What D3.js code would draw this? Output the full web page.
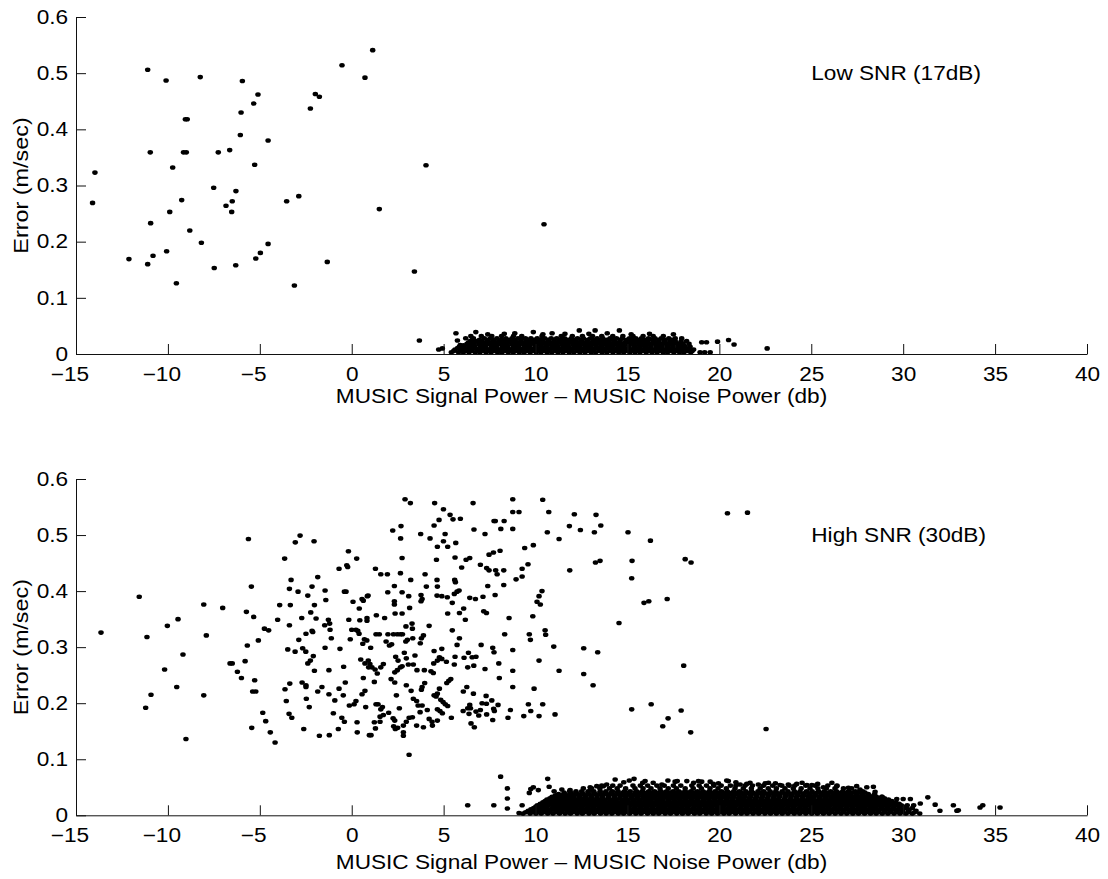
<!DOCTYPE html>
<html><head><meta charset="utf-8">
<script src="https://cdn.jsdelivr.net/npm/d3@7"></script>
<style>body{margin:0;background:#fff}text{font-family:"Liberation Sans",Arial,Helvetica,sans-serif;fill:#000}</style>
</head><body><svg id="c" width="1108" height="879"></svg>
<script>
const xTicks=[-15,-10,-5,0,5,10,15,20,25,30,35,40];
const yTicks=[0,0.1,0.2,0.3,0.4,0.5,0.6];
const yTickLabels=["0","0.1","0.2","0.3","0.4","0.5","0.6"];
const xLabel="MUSIC Signal Power \u2013 MUSIC Noise Power (db)";
const yLabel="Error (m/sec)";
const panelTitles=["Low SNR (17dB)","High SNR (30dB)"];

// Low SNR panel: individually read points [x, error]
const lowPts=[[-13.97,0.323],[-14.1,0.269],[-11.1,0.506],[-10.1,0.487],[-8.24,0.493],[-5.95,0.486],[-5.1,0.462],[-5.33,0.446],[-6.02,0.430],[-9.05,0.418],[-8.95,0.418],[-6.06,0.390],[-4.55,0.380],[-10.96,0.359],[-9.15,0.359],[-9.0,0.359],[-7.26,0.359],[-6.64,0.363],[-9.74,0.332],[-5.28,0.337],[-7.51,0.296],[-6.3,0.290],[-9.25,0.274],[-6.5,0.272],[-6.84,0.264],[-6.53,0.253],[-9.9,0.253],[-3.54,0.272],[-2.88,0.281],[1.5,0.258],[-10.94,0.233],[-8.81,0.220],[-8.18,0.198],[-4.55,0.196],[-10.07,0.183],[-4.97,0.180],[-5.22,0.170],[-10.81,0.175],[-12.12,0.169],[-11.1,0.160],[-7.48,0.153],[-6.31,0.158],[-1.33,0.164],[-9.54,0.126],[-3.12,0.122],[-2.25,0.437],[-1.98,0.463],[-1.76,0.458],[-0.53,0.514],[0.72,0.492],[1.14,0.541],[4.04,0.336],[10.46,0.231],[3.41,0.147],[3.68,0.024],[4.73,0.008],[4.93,0.010],[22.6,0.010],[20.5,0.025],[20.8,0.017],[19.9,0.022],[19.04,0.021],[19.3,0.021],[5.67,0.037],[6.75,0.039],[8.87,0.037],[9.88,0.039],[10.9,0.037],[11.6,0.036],[13.9,0.037],[16.2,0.036],[17.5,0.035],[12.38,0.042],[13.24,0.042],[14.56,0.042],[18.95,0.003],[19.2,0.003],[19.5,0.003],[7.4,0.035],[8.3,0.036],[10.4,0.035],[12.9,0.036],[15.2,0.035],[5.75,0.024],[5.9,0.016]];
// Low SNR dense cluster, read row by row
const lowCoreY=[0.003,0.008,0.013,0.018,0.023,0.028,0.032,0.0055,0.0105,0.0155,0.0205,0.0255];
const lowCoreX=[
[5.42,5.81,6.07,6.38,6.72,6.97,7.31,7.58,7.93,8.17,8.52,8.79,9.12,9.38,9.71,10.04,10.29,10.63,10.88,11.22,11.49,11.83,12.08,12.41,12.69,13.03,13.27,13.62,13.88,14.21,14.52,14.79,15.13,15.41,15.68,16.02,16.33,16.61,16.94,17.18,17.52,17.83,18.07,18.44],
[5.62,5.95,6.24,6.55,6.83,7.16,7.44,7.77,8.05,8.36,8.66,8.95,9.27,9.55,9.86,10.17,10.46,10.78,11.05,11.36,11.66,11.97,12.25,12.56,12.86,13.15,13.47,13.75,14.05,14.37,14.66,14.95,15.27,15.55,15.86,16.16,16.47,16.77,17.05,17.36,17.66,17.97,18.28,18.6],
[5.85,6.12,6.41,6.69,7.02,7.29,7.62,7.89,8.21,8.49,8.81,9.08,9.41,9.69,10.01,10.32,10.61,10.93,11.19,11.52,11.79,12.13,12.39,12.72,13.0,13.31,13.59,13.92,14.18,14.51,14.81,15.09,15.42,15.7,16.01,16.29,16.62,16.89,17.21,17.49,17.82,18.12,18.41],
[6.27,6.58,6.91,7.19,7.5,7.81,8.1,8.42,8.71,9.02,9.31,9.6,9.93,10.22,10.53,10.82,11.12,11.43,11.71,12.03,12.31,12.62,12.92,13.21,13.53,13.81,14.12,14.41,14.7,15.02,15.31,15.62,15.9,16.21,16.52,16.8,17.12,17.4,17.73,18.02,18.35],
[6.44,6.75,7.08,7.37,7.68,8.0,8.28,8.61,8.9,9.2,9.51,9.8,10.12,10.4,10.71,11.01,11.3,11.62,11.9,12.21,12.52,12.8,13.12,13.4,13.7,14.01,14.3,14.6,14.92,15.2,15.5,15.81,16.1,16.42,16.7,17.0,17.31,17.6,17.92,18.22],
[6.2,6.62,7.21,7.55,7.9,8.38,8.72,9.05,9.45,9.75,10.09,10.5,10.85,11.15,11.58,11.95,12.28,12.6,12.98,13.35,13.66,14.05,14.4,14.72,15.11,15.45,15.76,16.15,16.5,16.84,17.25,17.6,17.95],
[6.48,7.05,7.62,8.15,8.8,9.25,10.35,11.4,12.0,12.55,13.1,13.6,14.2,14.75,15.3,15.85,16.4,16.95],
[5.55,5.9,6.22,6.51,6.86,7.12,7.46,7.73,8.07,8.34,8.68,8.93,9.24,9.53,9.84,10.12,10.45,10.74,11.07,11.33,11.64,11.94,12.27,12.53,12.85,13.12,13.45,13.72,14.06,14.33,14.65,14.92,15.24,15.53,15.83,16.12,16.44,16.73,17.03,17.32,17.63,17.92,18.24,18.52],
[5.76,6.05,6.37,6.64,6.96,7.25,7.57,7.84,8.17,8.45,8.76,9.06,9.35,9.66,9.95,10.26,10.56,10.87,11.14,11.47,11.75,12.07,12.35,12.66,12.95,13.27,13.55,13.86,14.15,14.46,14.75,15.06,15.35,15.66,15.96,16.25,16.56,16.85,17.16,17.45,17.76,18.05,18.36],
[6.08,6.39,6.66,6.98,7.28,7.6,7.87,8.19,8.47,8.79,9.07,9.38,9.67,9.98,10.27,10.58,10.87,11.18,11.47,11.77,12.06,12.38,12.67,12.97,13.27,13.57,13.86,14.17,14.46,14.77,15.07,15.37,15.66,15.97,16.26,16.57,16.86,17.17,17.46,17.77,18.08],
[6.35,6.66,6.97,7.27,7.58,7.88,8.18,8.49,8.79,9.1,9.4,9.7,10.01,10.31,10.62,10.92,11.22,11.53,11.83,12.13,12.44,12.74,13.05,13.35,13.65,13.96,14.26,14.56,14.87,15.17,15.47,15.78,16.08,16.39,16.69,16.99,17.3,17.6,17.9],
[6.56,6.95,7.4,7.72,8.14,8.5,8.86,9.22,9.6,9.96,10.3,10.68,11.02,11.4,11.76,12.12,12.46,12.84,13.2,13.55,13.88,14.25,14.6,14.95,15.32,15.66,16.0,16.35,16.72,17.05,17.42]];

// High SNR panel: individually read points [x, error]
const highPts=[[-13.64,0.326],[-11.56,0.390],[-11.14,0.318],[-10.03,0.338],[-9.45,0.350],[-10.18,0.260],[-9.18,0.287],[-10.92,0.215],[-11.21,0.192],[-9.52,0.229],[-9.02,0.136],[-8.05,0.376],[-7.91,0.321],[-8.05,0.214],[-7.02,0.370],[-6.62,0.271],[-6.5,0.271],[-6.22,0.256],[-6.0,0.245],[-5.8,0.275],[-5.73,0.363],[-5.68,0.303],[-5.62,0.493],[-5.46,0.408],[-5.33,0.354],[-5.28,0.241],[-5.39,0.221],[-5.22,0.221],[-5.44,0.156],[-5.08,0.312],[-4.84,0.183],[-4.75,0.333],[-4.52,0.330],[-4.68,0.168],[-4.43,0.148],[-4.17,0.130],
[-3.65,0.458],[-3.07,0.487],[-2.81,0.499],[-2.05,0.489],[-0.18,0.471],[0.27,0.458],[-0.69,0.440],[-0.27,0.446],[-0.22,0.443],[-3.3,0.420],[-1.85,0.425],[-3.39,0.404],[-2.92,0.399],[-2.39,0.392],[-2.16,0.408],[-1.45,0.401],[-1.41,0.384],[-0.4,0.399],[-0.31,0.399],[0.07,0.381],[0.56,0.386],[0.63,0.383],[0.85,0.391],[0.41,0.369],[-3.92,0.375],[-3.34,0.375],[-2.03,0.375],[-2.23,0.362],[-4.03,0.349],[-3.39,0.339],[-2.72,0.352],[-1.94,0.351],[-1.27,0.349],[-1.2,0.342],[-1.47,0.339],[-1.18,0.331],[-0.16,0.349],[0.44,0.348],[0.83,0.352],[0.83,0.347],[-2.49,0.324],[-2.16,0.329],[-2.12,0.327],[-1.11,0.316],[0.0,0.331],[0.23,0.331],[0.33,0.329],[0.4,0.324],[-0.08,0.314],[0.6,0.306],[0.69,0.314],[0.82,0.312],[-2.88,0.313],[-3.48,0.296],[-3.08,0.292],[-2.67,0.298],[-2.5,0.292],[-1.45,0.299],[-0.64,0.297],[-2.09,0.284],[-2.25,0.276],[-2.39,0.271],[-2.03,0.258],[-1.24,0.259],[-0.44,0.265],[0.49,0.278],[0.72,0.271],[0.9,0.276],[0.92,0.264],[0.63,0.245],[-3.37,0.235],[-3.63,0.225],[-2.7,0.237],[-2.49,0.232],[-2.49,0.229],[-1.85,0.221],[-1.62,0.229],[-1.24,0.216],[-0.69,0.226],[-0.46,0.214],[-0.35,0.237],[-3.56,0.204],[-2.47,0.208],[-2.31,0.193],[-0.92,0.205],[-0.13,0.196],[0.13,0.198],[0.23,0.204],[0.76,0.193],[0.56,0.216],[0.72,0.222],[-3.41,0.181],[-3.26,0.174],[-2.61,0.154],[-1.0,0.182],[-0.54,0.174],[-0.4,0.167],[-0.73,0.154],[0.29,0.166],[-1.76,0.142],[-1.22,0.143],[0.3,0.148],[0.96,0.143],
[2.90,0.564],[3.19,0.557],[4.51,0.557],[4.99,0.546],[5.35,0.536],[5.51,0.528],[5.91,0.529],[4.75,0.527],[4.48,0.517],[6.6,0.557],[8.76,0.564],[8.76,0.541],[9.10,0.541],[10.39,0.563],[10.72,0.541],[7.74,0.525],[7.81,0.525],[8.29,0.525],[6.65,0.510],[7.25,0.502],[8.11,0.511],[8.76,0.511],[10.64,0.505],[11.28,0.493],[2.23,0.508],[2.68,0.516],[2.66,0.494],[3.75,0.502],[4.26,0.494],[5.08,0.502],[4.66,0.479],[4.99,0.489],[5.22,0.479],[5.66,0.486],[2.74,0.459],[4.61,0.456],[5.62,0.460],[6.22,0.456],[6.42,0.459],[5.98,0.442],[7.47,0.465],[7.71,0.469],[8.07,0.472],[9.41,0.477],[9.88,0.482],[7.0,0.447],[7.34,0.441],[7.47,0.437],[7.83,0.437],[7.91,0.430],[8.27,0.437],[9.27,0.440],[9.59,0.448],[8.94,0.421],[9.27,0.426],[8.27,0.411],[1.29,0.440],[1.58,0.430],[1.94,0.430],[2.65,0.432],[3.21,0.420],[3.99,0.430],[4.64,0.420],[4.66,0.408],[4.06,0.408],[5.6,0.420],[5.64,0.416],[2.32,0.409],[2.74,0.398],[3.1,0.391],[1.96,0.398],[0.89,0.392],[3.77,0.393],[3.83,0.386],[3.77,0.382],[4.64,0.392],[4.9,0.391],[5.2,0.389],[5.47,0.379],[5.58,0.395],[5.73,0.399],[5.84,0.401],[6.42,0.388],[6.73,0.386],[7.14,0.390],[7.8,0.393],[7.4,0.409],[2.32,0.382],[2.32,0.376],[3.15,0.370],[2.36,0.360],[2.74,0.360],[5.22,0.360],[5.86,0.361],[6.09,0.369],[6.18,0.349],[7.18,0.364],[7.33,0.361],[8.56,0.352],[9.85,0.355],[10.08,0.381],[10.26,0.376],[10.19,0.391],[10.35,0.400],[4.21,0.338],[3.28,0.342],[3.3,0.333],[2.95,0.337],[5.47,0.330],[1.34,0.357],[1.79,0.352],[1.32,0.323],[1.5,0.323],[1.97,0.323],[2.27,0.323],[2.48,0.323],[2.65,0.323],[2.76,0.323],[1.87,0.310],[2.05,0.303],[2.17,0.305],[1.03,0.299],[2.94,0.310],[3.03,0.313],[3.32,0.316],[3.73,0.307],[3.79,0.316],[3.9,0.321],[5.86,0.316],[5.73,0.304],[7.04,0.304],[7.67,0.299],[7.74,0.291],[8.32,0.323],[8.76,0.295],[9.66,0.323],[9.72,0.313],[10.52,0.330],[10.55,0.322],[10.99,0.301],[2.39,0.283],[2.52,0.276],[2.86,0.290],[2.97,0.280],[3.44,0.285],[0.99,0.270],[1.1,0.264],[1.27,0.260],[1.39,0.253],[1.58,0.264],[1.72,0.270],[2.34,0.255],[2.48,0.259],[2.65,0.264],[2.74,0.266],[3.08,0.269],[3.35,0.269],[3.55,0.259],[3.95,0.259],[4.31,0.257],[4.44,0.254],[4.46,0.271],[4.77,0.282],[4.9,0.279],[4.9,0.297],[4.48,0.293],[4.66,0.276],[5.15,0.274],[5.62,0.283],[5.58,0.269],[6.11,0.281],[6.35,0.290],[6.31,0.264],[6.64,0.267],[6.55,0.282],[6.76,0.283],[7.25,0.261],[8.0,0.271],[8.03,0.245],[8.76,0.258],[10.19,0.276],[11.28,0.258],[1.23,0.238],[2.14,0.243],[2.34,0.237],[2.43,0.214],[2.97,0.232],[3.23,0.222],[3.35,0.208],[3.53,0.204],[3.61,0.196],[3.83,0.196],[3.83,0.229],[3.79,0.224],[3.97,0.236],[4.48,0.214],[4.59,0.212],[4.66,0.217],[4.77,0.226],[5.17,0.236],[5.28,0.240],[5.39,0.243],[4.84,0.206],[4.97,0.202],[5.09,0.198],[5.22,0.195],[4.66,0.189],[4.8,0.186],[4.93,0.182],[3.72,0.184],[4.11,0.188],[4.21,0.172],[4.37,0.167],[4.66,0.169],[4.39,0.160],[3.9,0.157],[3.53,0.160],[2.81,0.160],[2.81,0.148],[2.81,0.142],[2.28,0.159],[2.5,0.156],[2.37,0.154],[2.25,0.173],[2.34,0.169],[2.59,0.191],[2.97,0.167],[3.12,0.174],[3.3,0.175],[2.01,0.183],[1.58,0.189],[1.67,0.193],[1.32,0.198],[1.43,0.198],[1.72,0.179],[1.54,0.176],[1.54,0.167],[1.23,0.166],[1.29,0.155],[1.05,0.143],[3.12,0.108],[5.42,0.174],[6.06,0.186],[6.31,0.191],[6.42,0.197],[6.46,0.191],[6.38,0.181],[6.49,0.164],[6.67,0.157],[6.76,0.185],[6.91,0.178],[7.0,0.188],[7.09,0.200],[7.34,0.180],[7.33,0.199],[7.62,0.205],[7.67,0.170],[7.72,0.190],[7.76,0.186],[7.96,0.197],[6.62,0.217],[6.07,0.221],[6.26,0.229],[7.31,0.213],[8.5,0.174],[8.63,0.188],[8.76,0.229],[9.36,0.177],[9.61,0.198],[9.74,0.186],[9.92,0.226],[10.19,0.177],[10.39,0.198],[11.06,0.180],
[12.11,0.537],[13.29,0.536],[11.84,0.516],[12.44,0.509],[13.2,0.505],[13.55,0.517],[15.03,0.505],[16.25,0.490],[20.44,0.539],[21.53,0.540],[13.26,0.451],[13.51,0.454],[11.86,0.437],[15.25,0.454],[15.23,0.423],[18.14,0.457],[18.46,0.451],[15.9,0.379],[16.16,0.382],[17.16,0.386],[14.54,0.343],[12.62,0.298],[13.38,0.291],[12.62,0.252],[13.13,0.232],[18.06,0.267],[15.23,0.189],[16.29,0.198],[17.92,0.187],[17.21,0.173],[16.92,0.159],[18.44,0.148],[22.54,0.154],
[6.31,0.018],[7.73,0.018],[8.1,0.069],[8.47,0.048],[8.47,0.030],[8.47,0.012],[9.27,0.018],[9.1,0.004],[9.66,0.040],[9.88,0.050],[9.74,0.047],[10.66,0.065],[10.74,0.051],
[14.33,0.064],[15.36,0.065],[15.96,0.061],[15.83,0.058],[16.87,0.055],[17.59,0.060],[17.71,0.061],[18.23,0.061],[18.86,0.061],[19.04,0.060],[19.67,0.056],[19.95,0.057],[20.49,0.061],[21.13,0.055],[21.49,0.056],[22.12,0.055],[22.49,0.057],[13.87,0.055],[13.69,0.052],[12.97,0.050],[13.33,0.052],[11.88,0.045],[11.43,0.046],[11.01,0.043],[10.15,0.045],[19.5,0.060],[20.4,0.062],[21.67,0.058],[22.67,0.058],[23.3,0.054],[23.75,0.055],[24.21,0.056],[24.76,0.054],[25.03,0.054],[25.66,0.050],[26.12,0.058],[26.39,0.052],[27.02,0.049],[27.47,0.052],[27.65,0.046],[28.02,0.050],[28.38,0.051],[28.47,0.042],[28.84,0.033],[28.84,0.018],[29.1,0.027],[29.65,0.029],[30.0,0.029],[30.39,0.029],[30.57,0.018],[30.93,0.021],[31.34,0.032],[31.74,0.019],[32.0,0.008],[32.73,0.018],[32.92,0.008],[33.0,0.009],[34.18,0.014],[34.33,0.018],[35.27,0.014],
[14.8,0.059],[16.4,0.058],[17.2,0.062],[18.6,0.058],[20.9,0.059],[23.05,0.057],[24.5,0.058],[25.35,0.056],[15.1,0.062],[13.0,0.046]];
// High SNR dense cluster, read row by row
const highCoreY=[0.003,0.008,0.013,0.018,0.023,0.028,0.033,0.038,0.043,0.048,0.053,0.0055,0.0105,0.0155,0.0205,0.0255,0.0305,0.0355,0.0405];
const highCoreX=[
[9.32,9.7,10.02,10.31,10.66,10.95,11.3,11.61,11.9,12.26,12.55,12.9,13.19,13.53,13.84,14.15,14.5,14.79,15.12,15.45,15.74,16.09,16.4,16.7,17.05,17.34,17.68,17.99,18.3,18.64,18.93,19.28,19.58,19.9,20.24,20.53,20.88,21.19,21.5,21.83,22.14,22.47,22.78,23.1,23.42,23.73,24.07,24.37,24.7,25.02,25.33,25.66,25.97,26.3,26.62,26.93,27.26,27.57,27.9,28.22,28.53,28.86,29.17,29.5,29.82,30.15,30.5,30.9],
[9.6,9.88,10.18,10.5,10.8,11.14,11.45,11.77,12.08,12.4,12.72,13.04,13.36,13.68,14.0,14.32,14.63,14.96,15.28,15.6,15.92,16.24,16.55,16.88,17.2,17.52,17.83,18.16,18.47,18.79,19.11,19.43,19.75,20.07,20.38,20.71,21.03,21.35,21.66,21.99,22.3,22.62,22.94,23.26,23.58,23.9,24.22,24.53,24.86,25.17,25.5,25.81,26.14,26.45,26.77,27.09,27.41,27.73,28.05,28.37,28.69,29.01,29.33,29.65,29.98,30.32,30.7],
[9.9,10.22,10.55,10.9,11.2,11.52,11.85,12.15,12.48,12.8,13.12,13.45,13.76,14.08,14.41,14.72,15.05,15.37,15.69,16.01,16.33,16.66,16.97,17.3,17.61,17.94,18.25,18.58,18.89,19.22,19.53,19.86,20.17,20.5,20.81,21.14,21.45,21.78,22.09,22.42,22.73,23.06,23.37,23.7,24.01,24.34,24.65,24.98,25.29,25.62,25.93,26.26,26.57,26.9,27.21,27.54,27.85,28.18,28.49,28.82,29.13,29.46,29.78,30.1,30.5],
[10.1,10.44,10.7,11.07,11.33,11.71,11.98,12.35,12.61,12.99,13.25,13.63,13.9,14.27,14.53,14.91,15.17,15.55,15.81,16.19,16.45,16.83,17.09,17.47,17.73,18.11,18.37,18.75,19.01,19.39,19.65,20.03,20.29,20.67,20.93,21.31,21.57,21.95,22.21,22.59,22.85,23.23,23.49,23.87,24.13,24.51,24.77,25.15,25.41,25.79,26.05,26.43,26.69,27.07,27.33,27.71,27.97,28.35,28.61,28.99,29.25,29.63,29.9,30.22],
[10.4,10.71,11.05,11.34,11.69,11.98,12.31,12.62,12.95,13.26,13.59,13.9,14.22,14.54,14.86,15.18,15.5,15.82,16.14,16.46,16.78,17.1,17.42,17.74,18.06,18.38,18.7,19.02,19.34,19.66,19.98,20.3,20.62,20.94,21.26,21.58,21.9,22.22,22.54,22.86,23.18,23.5,23.82,24.14,24.46,24.78,25.1,25.42,25.74,26.06,26.38,26.7,27.02,27.34,27.66,27.98,28.3,28.62,28.94,29.26,29.6],
[10.62,10.95,11.24,11.58,11.87,12.2,12.5,12.83,13.13,13.46,13.76,14.09,14.39,14.72,15.02,15.35,15.65,15.98,16.28,16.61,16.91,17.24,17.54,17.87,18.17,18.5,18.8,19.13,19.43,19.76,20.06,20.39,20.69,21.02,21.32,21.65,21.95,22.28,22.58,22.91,23.21,23.54,23.84,24.17,24.47,24.8,25.1,25.43,25.73,26.06,26.36,26.69,26.99,27.32,27.62,27.95,28.25,28.58,28.88,29.2],
[10.9,11.18,11.5,11.8,12.1,12.42,12.73,13.04,13.35,13.66,13.97,14.28,14.59,14.9,15.21,15.52,15.83,16.14,16.45,16.76,17.07,17.38,17.69,18.0,18.31,18.62,18.93,19.24,19.55,19.86,20.17,20.48,20.79,21.1,21.41,21.72,22.03,22.34,22.65,22.96,23.27,23.58,23.89,24.2,24.51,24.82,25.13,25.44,25.75,26.06,26.37,26.68,26.99,27.3,27.61,27.92,28.23,28.54,28.85],
[11.25,11.6,11.93,12.27,12.58,12.9,13.24,13.55,13.88,14.2,14.53,14.85,15.17,15.5,15.82,16.14,16.47,16.79,17.11,17.44,17.76,18.08,18.41,18.73,19.05,19.38,19.7,20.02,20.35,20.67,20.99,21.32,21.64,21.96,22.29,22.61,22.93,23.26,23.58,23.9,24.23,24.55,24.87,25.2,25.52,25.84,26.17,26.49,26.81,27.14,27.46,27.78,28.1,28.45],
[11.85,12.2,12.51,12.86,13.17,13.52,13.83,14.18,14.49,14.84,15.15,15.5,15.81,16.16,16.47,16.82,17.13,17.48,17.79,18.14,18.45,18.8,19.11,19.46,19.77,20.12,20.43,20.78,21.09,21.44,21.75,22.1,22.41,22.76,23.07,23.42,23.73,24.08,24.39,24.74,25.05,25.4,25.71,26.06,26.37,26.72,27.03,27.4,27.8],
[12.6,13.05,13.5,14.02,14.44,14.9,15.41,15.85,16.28,16.77,17.22,17.66,18.14,18.58,19.02,19.49,19.93,20.38,20.85,21.3,21.74,22.22,22.66,23.1,23.57,24.02,24.45,24.93,25.36,25.82,26.29,26.75,27.2],
[13.6,14.2,14.6,15.3,15.7,16.1,16.6,17.0,17.5,17.9,18.5,18.9,19.3,19.7,20.1,20.6,20.9,21.4,21.8,22.4,22.9,23.4,23.8,24.1,24.7,25.2,25.9,26.4],
[9.46,9.82,10.14,10.45,10.77,11.1,11.38,11.74,12.02,12.35,12.66,12.99,13.28,13.62,13.93,14.27,14.56,14.9,15.2,15.55,15.84,16.18,16.48,16.82,17.12,17.46,17.76,18.1,18.4,18.74,19.04,19.38,19.68,20.02,20.32,20.66,20.96,21.3,21.6,21.94,22.24,22.58,22.88,23.22,23.52,23.86,24.16,24.5,24.8,25.14,25.44,25.78,26.08,26.42,26.72,27.06,27.36,27.7,28.0,28.34,28.64,28.98,29.28,29.62,29.92,30.27,30.62],
[9.75,10.07,10.36,10.69,11.0,11.33,11.64,11.96,12.28,12.6,12.92,13.24,13.57,13.88,14.2,14.52,14.85,15.16,15.48,15.8,16.13,16.44,16.76,17.08,17.41,17.72,18.04,18.36,18.69,19.0,19.32,19.64,19.97,20.28,20.6,20.92,21.25,21.56,21.88,22.2,22.53,22.84,23.16,23.48,23.81,24.12,24.44,24.76,25.09,25.4,25.72,26.04,26.37,26.68,27.0,27.32,27.65,27.96,28.28,28.6,28.93,29.24,29.56,29.9,30.28],
[10.02,10.33,10.62,10.96,11.26,11.58,11.9,12.22,12.54,12.87,13.18,13.5,13.83,14.14,14.46,14.79,15.1,15.42,15.75,16.06,16.38,16.71,17.02,17.34,17.67,17.98,18.3,18.63,18.94,19.26,19.59,19.9,20.22,20.55,20.86,21.18,21.51,21.82,22.14,22.47,22.78,23.1,23.43,23.74,24.06,24.39,24.7,25.02,25.35,25.66,25.98,26.31,26.62,26.94,27.27,27.58,27.9,28.23,28.54,28.86,29.19,29.5,29.82,30.16],
[10.26,10.57,10.89,11.21,11.51,11.85,12.15,12.47,12.8,13.11,13.43,13.76,14.07,14.39,14.72,15.03,15.35,15.68,15.99,16.31,16.64,16.95,17.27,17.6,17.91,18.23,18.56,18.87,19.19,19.52,19.83,20.15,20.48,20.79,21.11,21.44,21.75,22.07,22.4,22.71,23.03,23.36,23.67,23.99,24.32,24.63,24.95,25.28,25.59,25.91,26.24,26.55,26.87,27.2,27.51,27.83,28.16,28.47,28.79,29.12,29.43,29.78],
[10.52,10.85,11.17,11.48,11.81,12.12,12.44,12.77,13.09,13.41,13.74,14.05,14.37,14.7,15.01,15.33,15.66,15.97,16.29,16.62,16.93,17.25,17.58,17.89,18.21,18.54,18.85,19.17,19.5,19.81,20.13,20.46,20.77,21.09,21.42,21.73,22.05,22.38,22.69,23.01,23.34,23.65,23.97,24.3,24.61,24.93,25.26,25.57,25.89,26.22,26.53,26.85,27.18,27.49,27.81,28.14,28.45,28.77,29.1,29.38],
[10.78,11.07,11.4,11.71,12.03,12.37,12.67,13.0,13.33,13.63,13.96,14.29,14.59,14.92,15.25,15.55,15.88,16.21,16.51,16.84,17.17,17.47,17.8,18.13,18.43,18.76,19.09,19.39,19.72,20.05,20.35,20.68,21.01,21.31,21.64,21.97,22.27,22.6,22.93,23.23,23.56,23.89,24.19,24.52,24.85,25.15,25.48,25.81,26.11,26.44,26.77,27.07,27.4,27.73,28.03,28.36,28.69,28.98],
[11.08,11.41,11.71,12.05,12.36,12.69,13.01,13.35,13.65,13.99,14.3,14.63,14.95,15.28,15.58,15.92,16.23,16.56,16.88,17.21,17.51,17.85,18.16,18.49,18.81,19.14,19.44,19.78,20.09,20.42,20.74,21.07,21.37,21.71,22.02,22.35,22.67,23.0,23.3,23.64,23.95,24.28,24.6,24.93,25.23,25.57,25.88,26.21,26.53,26.86,27.16,27.5,27.81,28.12,28.4],
[11.55,11.9,12.19,12.53,12.85,13.17,13.5,13.8,14.13,14.46,14.76,15.09,15.42,15.72,16.05,16.38,16.68,17.01,17.34,17.64,17.97,18.3,18.6,18.93,19.26,19.56,19.89,20.22,20.52,20.85,21.18,21.48,21.81,22.14,22.44,22.77,23.1,23.4,23.73,24.06,24.36,24.69,25.02,25.32,25.65,25.98,26.28,26.61,26.94,27.24,27.57,27.92]];

const W=1108,H=879;
const svg=d3.select("#c");
const panels=[
  {top:17,h:337,pts:lowPts,coreY:lowCoreY,coreX:lowCoreX,labelDy:49,title:panelTitles[0]},
  {top:479,h:336.3,pts:highPts,coreY:highCoreY,coreX:highCoreX,labelDy:54,title:panelTitles[1]}
];
const left=76,pw=1011,FS=19.5,SX=1.16;

panels.forEach(p=>{
  const g=svg.append("g").attr("transform",`translate(${left},${p.top})`);
  const x=d3.scaleLinear().domain([-15,40]).range([0,pw]);
  const y=d3.scaleLinear().domain([0,0.6]).range([p.h,0]);
  const pts=p.pts.slice();
  p.coreX.forEach((row,i)=>row.forEach(v=>pts.push([v,p.coreY[i]])));
  g.append("g").selectAll("ellipse").data(pts).join("ellipse")
    .attr("cx",d=>x(d[0])).attr("cy",d=>y(d[1])).attr("rx",2.75).attr("ry",2.3).attr("fill","#000");

  const ax=g.append("g").attr("transform",`translate(0,${p.h})`)
    .call(d3.axisBottom(x).tickValues(xTicks).tickSizeInner(-10).tickSizeOuter(0).tickPadding(13));
  const ay=g.append("g")
    .call(d3.axisLeft(y).tickValues(yTicks).tickFormat((d,i)=>yTickLabels[i]).tickSizeInner(-10).tickSizeOuter(0).tickPadding(6.8));
  [ax,ay].forEach(a=>{a.selectAll("path,line").attr("stroke","#111");
    a.selectAll("text").attr("font-size",FS).attr("font-family",null).attr("fill","#000").attr("transform",`scale(${SX},1)`);});
  ax.selectAll("text").each(function(d){
    if(d<0){const w=this.getComputedTextLength(),m=this.getSubStringLength(0,1);
      d3.select(this).attr("text-anchor","start").attr("x",-(m+(w-m)/2));}
  });
  g.append("text").attr("transform",`translate(${pw/2},${p.h+p.labelDy}) scale(${SX},1)`)
    .attr("text-anchor","middle").attr("font-size",FS).text(xLabel);
  g.append("text").attr("transform",`translate(${27.5-left},${p.h/2}) rotate(-90) scale(1.2,1)`)
    .attr("text-anchor","middle").attr("font-size",FS).text(yLabel);
  g.append("text").attr("transform",`translate(${x(25)},${y(0.5)}) scale(${SX},1)`)
    .attr("dy","0.35em").attr("font-size",FS).text(p.title);
});
</script></body></html>
